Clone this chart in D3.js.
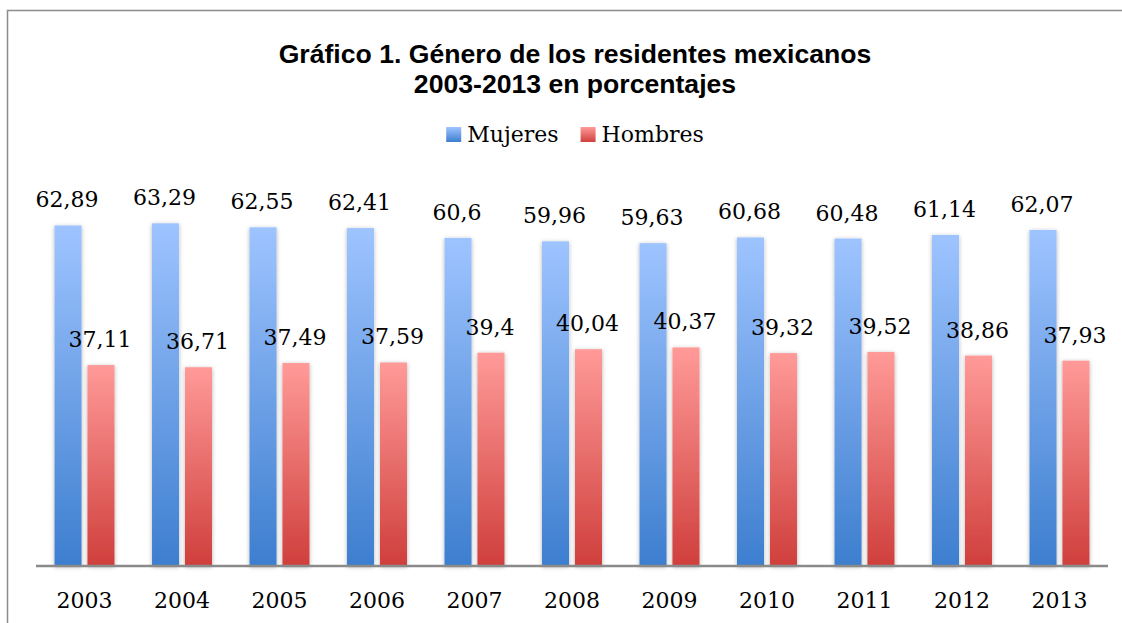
<!DOCTYPE html>
<html>
<head>
<meta charset="utf-8">
<script src="https://cdn.jsdelivr.net/npm/d3@7"></script>
<style>
  body { margin: 0; background: #fff; }
  svg { display: block; }
</style>
</head>
<body>
<div id="viz"></div>
<script>
const years = ['2003', '2004', '2005', '2006', '2007', '2008', '2009', '2010', '2011', '2012', '2013'];
const series = ['Mujeres', 'Hombres'];
const mujeres = [62.89, 63.29, 62.55, 62.41, 60.6, 59.96, 59.63, 60.68, 60.48, 61.14, 62.07];
const hombres = [37.11, 36.71, 37.49, 37.59, 39.4, 40.04, 40.37, 39.32, 39.52, 38.86, 37.93];
const titleLines = ['Gráfico 1. Género de los residentes mexicanos', '2003-2013 en porcentajes'];

let width = 1122;
let height = 623;
let serif = '"DejaVu Serif", serif';

let rows = years.map((y, i) => ({ year: y, Mujeres: mujeres[i], Hombres: hombres[i] }));

const svg = d3.select('#viz').append('svg')
  .attr('width', width)
  .attr('height', height);

let defs = svg.append('defs');

// vertical gradients, light on top, darker at the base
let grads = { Mujeres: ['#9ec4ff', '#3d7ecf'], Hombres: ['#ff9a98', '#cf3f3c'] };
for (let s of series) {
  let g = defs.append('linearGradient')
    .attr('id', `grad-${s}`)
    .attr('x1', 0).attr('y1', 0).attr('x2', 0).attr('y2', 1);
  g.append('stop').attr('offset', '0%').attr('stop-color', grads[s][0]);
  g.append('stop').attr('offset', '100%').attr('stop-color', grads[s][1]);
}

defs.append('filter')
  .attr('id', 'shadow')
  .attr('x', '-30%').attr('y', '-5%').attr('width', '160%').attr('height', '110%')
  .append('feDropShadow')
  .attr('dx', 0).attr('dy', 1)
  .attr('stdDeviation', 2)
  .attr('flood-color', '#000')
  .attr('flood-opacity', 0.3);

// outer frame
svg.append('rect')
  .attr('x', 7.5).attr('y', 10.5)
  .attr('width', 1130).attr('height', 630)
  .attr('fill', 'none')
  .attr('stroke', '#8c8c8c')
  .attr('stroke-width', 1.5);

let x0 = d3.scaleBand()
  .domain(years)
  .range([36, 1108])
  .paddingInner(0.385)
  .paddingOuter(0.19);

let x1 = d3.scaleBand()
  .domain(series)
  .range([0, x0.bandwidth()])
  .paddingInner(0.18);

let y = d3.scaleLinear()
  .domain([0, 70])
  .range([566, 187]);

let fmt = v => String(v).replace('.', ',');

// title
svg.append('g')
  .selectAll('text')
  .data(titleLines)
  .join('text')
  .attr('x', 575)
  .attr('y', (d, i) => 63 + i * 30)
  .attr('text-anchor', 'middle')
  .style('font', 'bold 26.6px "Liberation Sans", Arial, sans-serif')
  .text(d => d);

// legend
let legend = svg.append('g');
let lx = 0;
series.forEach(s => {
  let item = legend.append('g').attr('transform', `translate(${lx},0)`);
  item.append('rect')
    .attr('x', 0).attr('y', 127)
    .attr('width', 15).attr('height', 15)
    .attr('fill', `url(#grad-${s})`);
  let t = item.append('text')
    .attr('x', 21).attr('y', 142)
    .style('font', `22px ${serif}`)
    .attr('fill', '#000')
    .text(s);
  lx += 21 + t.node().getComputedTextLength() + 22;
});
let lw = legend.node().getBBox().width;
legend.attr('transform', `translate(${575 - lw / 2},0)`);

// bars
let groups = svg.append('g')
  .selectAll('g')
  .data(rows)
  .join('g')
  .attr('transform', d => `translate(${x0(d.year)},0)`);

groups.selectAll('rect')
  .data(d => series.map(s => ({ key: s, value: d[s] })))
  .join('rect')
  .attr('x', d => x1(d.key))
  .attr('y', d => y(d.value))
  .attr('width', x1.bandwidth())
  .attr('height', d => y(0) - y(d.value))
  .attr('fill', d => `url(#grad-${d.key})`)
  .attr('filter', 'url(#shadow)');

groups.selectAll('text')
  .data(d => series.map(s => ({ key: s, value: d[s] })))
  .join('text')
  .attr('x', d => x1(d.key) + x1.bandwidth() / 2 - 1)
  .attr('y', d => y(d.value) - 18)
  .attr('text-anchor', 'middle')
  .style('font', `22px ${serif}`)
  .attr('fill', '#000')
  .text(d => fmt(d.value));

// baseline axis
let axis = svg.append('g')
  .attr('transform', `translate(0,${y(0)})`)
  .call(d3.axisBottom(x0).tickSize(0).tickPadding(30));

axis.select('.domain')
  .attr('d', 'M36,0H1108')
  .attr('stroke', '#8a8a8a')
  .attr('stroke-width', 2.5);

axis.selectAll('text')
  .style('font', `22px ${serif}`)
  .attr('fill', '#000')
  .attr('dy', 0)
  .attr('y', 42);
</script>
</body>
</html>
